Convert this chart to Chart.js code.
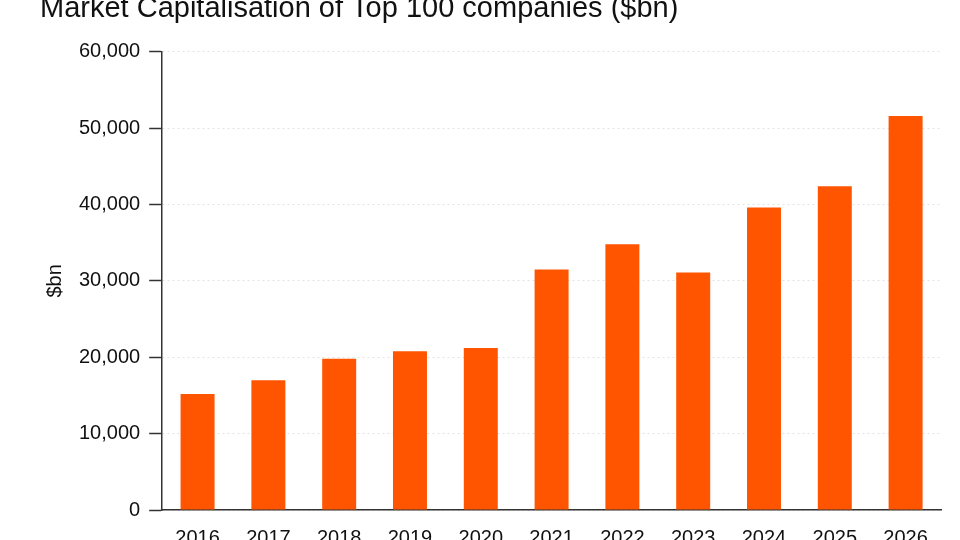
<!DOCTYPE html>
<html>
<head>
<meta charset="utf-8">
<script src="https://cdn.jsdelivr.net/npm/chart.js@4"></script>
<style>
  html, body { margin:0; padding:0; background:#fff; overflow:hidden; }
  #wrap { position:relative; width:960px; height:540px; overflow:hidden; }
  canvas { position:absolute; left:0; top:0; }
</style>
</head>
<body>
<div id="wrap"><canvas id="c" width="960" height="577"></canvas></div>
<script>
const years = ['2016','2017','2018','2019','2020','2021','2022','2023','2024','2025','2026'];
const marketCap = [15200, 17000, 19800, 20800, 21200, 31500, 34800, 31100, 39600, 42400, 51600];
const yTicks = [0, 10000, 20000, 30000, 40000, 50000, 60000];

const FONT = '"Liberation Sans", Arial, Helvetica, sans-serif';
Chart.defaults.font.family = FONT;
Chart.defaults.color = '#111';

new Chart(document.getElementById('c'), {
  type:'bar',
  data:{ labels:years, datasets:[
    { label:'Market cap', data:marketCap, backgroundColor:'#ff5500', borderWidth:0,
      categoryPercentage:1, barPercentage:0.48 }
  ]},
  options:{
    responsive:false, animation:false,
    layout:{ padding:{ left:40, right:19, top:10, bottom:11 } },
    plugins:{
      legend:{display:false},
      tooltip:{enabled:false},
      title:{ display:true, text:'Market Capitalisation of Top 100 companies ($bn)', align:'start',
        color:'#111', font:{ size:29, weight:'normal', family:FONT }, padding:{ top:-18, bottom:25 } }
    },
    scales:{
      x:{
        grid:{ display:false, drawTicks:false },
        border:{ display:true, color:'#333', width:1.5 },
        ticks:{ padding:16, font:{ size:20 }, color:'#111', maxRotation:0 }
      },
      y:{
        min:0, max:60000,
        afterBuildTicks(axis){ axis.ticks = yTicks.map(v => ({ value:v })); },
        grid:{ color:'#e2e2e2', lineWidth:1, tickLength:13, tickColor:'#333', tickWidth:1.5, tickBorderDash:[] },
        border:{ display:true, color:'#333', width:1.5, dash:[2,3] },
        ticks:{ padding:9, font:{ size:20 }, color:'#111',
          callback:v => v.toLocaleString('en-US') },
        title:{ display:true, text:'$bn', font:{ size:20 }, color:'#111', padding:{ top:3, bottom:3 } }
      }
    }
  }
});
</script>
</body>
</html>
